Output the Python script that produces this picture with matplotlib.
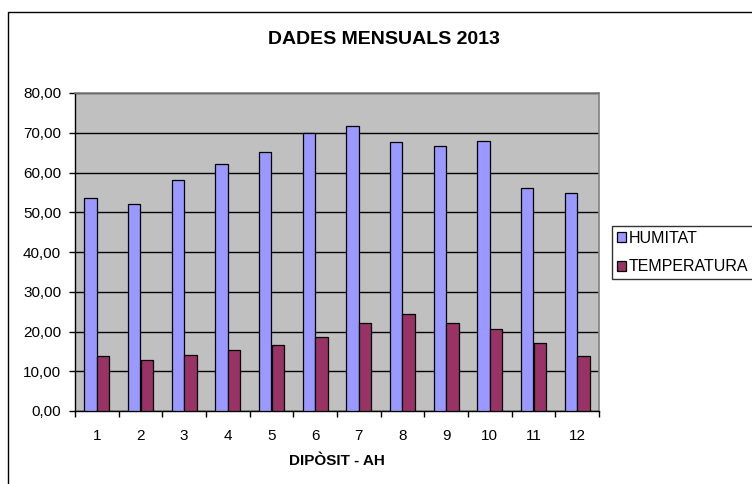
import matplotlib
matplotlib.use("Agg")
import matplotlib.pyplot as plt
import numpy as np
from matplotlib.patches import Rectangle
from matplotlib.ticker import FuncFormatter

plt.rcParams["font.family"] = ["Liberation Sans", "DejaVu Sans"]

dipos = [1, 2, 3, 4, 5, 6, 7, 8, 9, 10, 11, 12]
humitat = [53.5, 52.2, 58.2, 62.2, 65.1, 70.0, 71.6, 67.6, 66.6, 67.8, 56.0, 54.8]
temperatura = [13.8, 12.9, 14.1, 15.3, 16.6, 18.7, 22.1, 24.4, 22.1, 20.6, 17.1, 13.8]

W, H = 752, 484
fig = plt.figure(figsize=(W / 100, H / 100), dpi=100)
fig.patch.set_facecolor("white")

# outer chart frame (right and bottom edges fall outside the picture)
fig.patches.append(Rectangle((8 / W, -0.1), 1.2, 1 - 12 / H + 0.1,
                             transform=fig.transFigure, fill=False,
                             edgecolor="black", linewidth=1.0))

left, right, top, bottom = 75, 599, 93, 411
ax = fig.add_axes([left / W, 1 - bottom / H, (right - left) / W, (bottom - top) / H])
ax.set_facecolor("#C0C0C0")

x = np.arange(len(dipos))
bw = 0.286
ax.bar(x - bw / 2, humitat, bw, color="#9999FF", edgecolor="black",
       linewidth=0.9, label="HUMITAT", zorder=3)
ax.bar(x + bw / 2, temperatura, bw, color="#993366", edgecolor="black",
       linewidth=0.9, label="TEMPERATURA", zorder=3)

ax.set_xlim(-0.5, len(dipos) - 0.5)
ax.set_ylim(0, 80)
ax.set_yticks(np.arange(0, 81, 10))
ax.yaxis.set_major_formatter(FuncFormatter(lambda v, p: f"{v:.2f}".replace(".", ",")))
ax.grid(axis="y", color="black", linewidth=1.0, zorder=1)

# category labels centred, ticks on the boundaries
ax.set_xticks(np.arange(-0.5, len(dipos), 1.0))
ax.set_xticklabels([])
ax.set_xticks(x, minor=True)
ax.set_xticklabels([str(d) for d in dipos], minor=True, fontsize=11)
ax.tick_params(axis="x", which="major", length=4, width=1, color="black", direction="out")
ax.tick_params(axis="x", which="minor", length=0, pad=13)
ax.tick_params(axis="y", length=4, width=1, color="black", direction="out",
               labelsize=11, pad=6)

for s in ("top", "right"):
    ax.spines[s].set_color("#808080")
    ax.spines[s].set_linewidth(1.2)
for s in ("left", "bottom"):
    ax.spines[s].set_color("black")
    ax.spines[s].set_linewidth(1.0)

fig.text(384 / W, 1 - 39 / H, "DADES MENSUALS 2013",
         ha="center", va="center", fontsize=14, fontweight="bold")
fig.text((left + right) / 2 / W, 1 - 461 / H, "DIPÒSIT - AH",
         ha="center", va="center", fontsize=11, fontweight="bold")

leg = fig.legend(loc="upper left", bbox_to_anchor=(612 / W, 1 - 226 / H),
                 fontsize=11.5, frameon=True, fancybox=False, shadow=False,
                 handlelength=0.55, handleheight=0.55, handletextpad=0.2,
                 borderpad=0.3, labelspacing=0.85, borderaxespad=0)
leg.get_frame().set_edgecolor("black")
leg.get_frame().set_linewidth(1.0)

fig.savefig("out.png", dpi=100)
